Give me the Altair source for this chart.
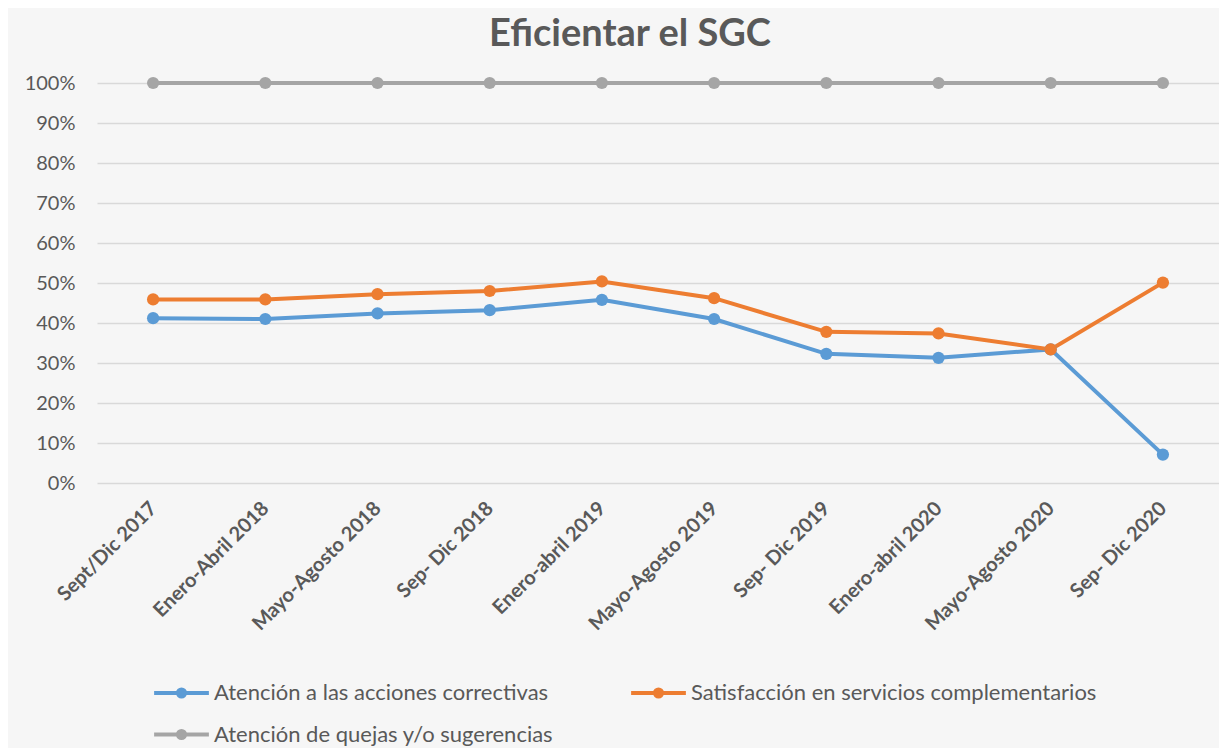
import altair as alt
import pandas as pd

periods = ["Sept/Dic 2017", "Enero-Abril 2018", "Mayo-Agosto 2018", "Sep- Dic 2018",
           "Enero-abril 2019", "Mayo-Agosto 2019", "Sep- Dic 2019", "Enero-abril 2020",
           "Mayo-Agosto 2020", "Sep- Dic 2020"]
series_names = ["Atención a las acciones correctivas",
                "Satisfacción en servicios complementarios",
                "Atención de quejas y/o sugerencias"]
acciones = [0.412, 0.410, 0.424, 0.432, 0.458, 0.410, 0.323, 0.313, 0.334, 0.071]
satisfaccion = [0.459, 0.459, 0.472, 0.480, 0.504, 0.462, 0.378, 0.374, 0.334, 0.501]
quejas = [1.0, 1.0, 1.0, 1.0, 1.0, 1.0, 1.0, 1.0, 1.0, 1.0]
colors = ["#5B9BD5", "#ED7D31", "#A5A5A5"]
# legend grid fills column by column: this order gives rows (A, S) / (Q)
legend_order = [series_names[0], series_names[2], series_names[1]]

rows = []
for name, vals in zip(series_names, [acciones, satisfaccion, quejas]):
    for p, v in zip(periods, vals):
        rows.append({"periodo": p, "serie": name, "valor": v})
df = pd.DataFrame(rows)

FONT = "Lato"
TXT = "#595959"

legend_symbol = ("M-1,0H1 "
                 "M-0.13,0A0.13,0.13 0 1,0 0.13,0A0.13,0.13 0 1,0 -0.13,0 "
                 "M-0.05,0A0.05,0.05 0 1,0 0.05,0A0.05,0.05 0 1,0 -0.05,0")

chart = alt.Chart(df).mark_line(
    strokeWidth=4,
    point=alt.OverlayMarkDef(size=150, filled=True, opacity=1),
).encode(
    x=alt.X("periodo:N", sort=periods, title=None,
            scale=alt.Scale(type="point", padding=0.5),
            axis=alt.Axis(labelAngle=-45, labelFontSize=20, labelFontWeight="bold",
                          labelColor=TXT, labelFont=FONT, ticks=False, domain=False,
                          grid=False, labelPadding=22, labelAlign="right",
                          labelBaseline="middle")),
    y=alt.Y("valor:Q", title=None,
            scale=alt.Scale(domain=[0, 1], nice=False),
            axis=alt.Axis(format=".0%", values=[i / 10 for i in range(11)],
                          labelFontSize=20, labelColor=TXT, labelFont=FONT,
                          ticks=False, domain=False, gridColor="#d9d9d9",
                          gridWidth=1.5, labelPadding=22, minExtent=84, maxExtent=84)),
    color=alt.Color("serie:N", sort=series_names,
                    scale=alt.Scale(domain=series_names, range=colors),
                    legend=alt.Legend(title=None, orient="none", legendX=55, legendY=580,
                                      columns=2, columnPadding=69, rowPadding=-10,
                                      values=legend_order,
                                      symbolType=legend_symbol, symbolSize=3000,
                                      symbolStrokeWidth=4, labelFontSize=22,
                                      labelColor=TXT, labelFont=FONT, labelOffset=3,
                                      labelLimit=600)),
).properties(
    width=1122,
    height=400,
    title=alt.TitleParams("Eficientar el SGC", fontSize=38, fontWeight="bold",
                          color=TXT, font=FONT, anchor="middle", offset=19, dx=-28),
    padding={"left": 5, "top": 8, "right": 0, "bottom": 5},
    background="#f6f6f6",
).configure_view(stroke=None)

chart.save("out.html", embed_options={"renderer": "svg", "actions": False})
